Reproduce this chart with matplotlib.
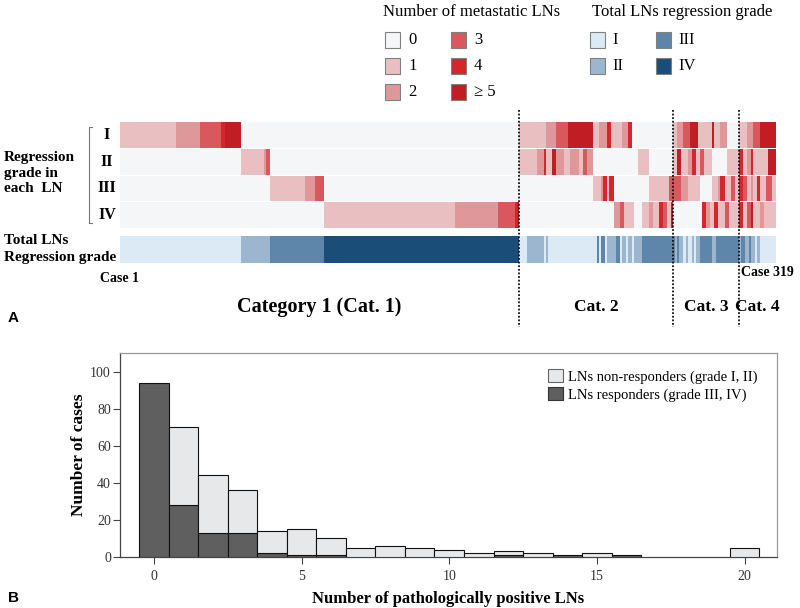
import numpy as np
import matplotlib
matplotlib.use('Agg')
import matplotlib.pyplot as plt
from matplotlib.colors import ListedColormap
from matplotlib.patches import Rectangle, Patch

# ---------------- DATA ----------------
# Panel A: run-length encoded (value, number of cases), cases ordered 1..319
cat_names = ['Category 1 (Cat. 1)', 'Cat. 2', 'Cat. 3', 'Cat. 4']
cat_sizes = [194, 75, 32, 18]

row_I = [(1, 27), (2, 12), (3, 10), (4, 2), (5, 8), (0, 135),
         (1, 13), (2, 5), (3, 6), (5, 12), (1, 3), (2, 4), (4, 2), (1, 5), (2, 3), (4, 2), (0, 20),
         (1, 2), (2, 3), (3, 3), (5, 4), (1, 7), (5, 1), (1, 3), (2, 3), (0, 6),
         (1, 4), (2, 3), (3, 3), (5, 8)]
row_II = [(0, 59), (1, 11), (2, 1), (3, 2), (0, 121),
          (1, 9), (2, 3), (4, 1), (1, 3), (5, 2), (2, 4), (1, 3), (2, 4), (1, 2), (3, 2), (2, 3), (0, 22), (1, 5), (0, 12),
          (1, 2), (5, 2), (1, 3), (2, 2), (4, 2), (1, 2), (3, 2), (1, 4), (0, 7), (1, 6),
          (4, 2), (1, 2), (2, 2), (4, 1), (1, 7), (5, 4)]
row_III = [(0, 73), (1, 17), (2, 5), (3, 4), (0, 95),
           (0, 36), (1, 4), (2, 1), (4, 2), (1, 1), (4, 2), (0, 17), (1, 10), (3, 2),
           (3, 4), (2, 3), (1, 6), (0, 6), (1, 3), (2, 1), (4, 2), (1, 3), (3, 2), (1, 2),
           (4, 2), (3, 2), (1, 2), (2, 1), (1, 2), (4, 1), (1, 3), (3, 3), (1, 2)]
row_IV = [(0, 99), (1, 64), (2, 21), (3, 8), (4, 1), (5, 1),
          (0, 46), (2, 3), (3, 2), (1, 5), (0, 4), (1, 3), (2, 2), (1, 3), (4, 2), (3, 2), (1, 2), (5, 1),
          (0, 14), (4, 2), (2, 2), (1, 2), (4, 2), (1, 3), (3, 2), (1, 5),
          (4, 2), (1, 2), (3, 2), (5, 1), (1, 3), (2, 2), (1, 6)]
total_grade = [(1, 59), (2, 14), (3, 26), (4, 95),
               (1, 4), (2, 8), (1, 1), (2, 1), (1, 24), (3, 1), (1, 1), (3, 2), (1, 1), (2, 4), (3, 2), (1, 1),
               (2, 2), (1, 1), (2, 2), (1, 1), (2, 4), (3, 15),
               (3, 1), (2, 1), (3, 1), (2, 2), (1, 1), (2, 1), (1, 2), (2, 1), (1, 1), (2, 2), (3, 6), (2, 2), (3, 11),
               (2, 1), (3, 2), (2, 2), (3, 1), (2, 2), (1, 1), (2, 1), (1, 8)]

row_labels = ['I', 'II', 'III', 'IV']
meta_labels = ['0', '1', '2', '3', '4', '\u2265 5']
grade_labels = ['I', 'II', 'III', 'IV']

# Panel B: histogram
n_pos_lns = list(range(0, 21))
responders = [94, 28, 13, 13, 2, 1, 1, 0, 0, 0, 0, 0, 1, 0, 1, 0, 1, 0, 0, 0, 0]
non_responders = [0, 42, 31, 23, 12, 14, 9, 5, 6, 5, 4, 2, 2, 2, 0, 2, 0, 0, 0, 0, 5]

# ---------------- STYLE ----------------
heat_colors = ['#f4f6f7', '#eabfc2', '#e0979a', '#d9585d', '#d4262d', '#c01d24']
grade_colors = ['#dceaf6', '#9db6d0', '#5e86aa', '#1a4e78']
light_bar = '#e7e8ea'
dark_bar = '#5f5f5f'
SERIF = ['Liberation Serif', 'DejaVu Serif']
SANS = ['Liberation Sans', 'DejaVu Sans']

W, H = 800, 608
fig = plt.figure(figsize=(W / 100, H / 100), dpi=100)


def fx(x):
    return x / W


def fy(y):
    return 1 - y / H


def T(x, y, s, **kw):
    kw.setdefault('family', SERIF)
    kw.setdefault('va', 'center')
    fig.text(fx(x), fy(y), s, **kw)


def expand(runs):
    out = []
    for v, n in runs:
        out += [v] * n
    return np.array(out)


rows = [expand(r) for r in (row_I, row_II, row_III, row_IV)]
tot = expand(total_grade)
n_cases = sum(cat_sizes)
for r in rows + [tot]:
    assert len(r) == n_cases, len(r)

# ---------------- PANEL A ----------------
hx0, hx1, hy0, hy1 = 120, 776, 105, 330
axh = fig.add_axes([fx(hx0), fy(hy1), (hx1 - hx0) / W, (hy1 - hy0) / H])
axh.set_xlim(0, n_cases)
axh.set_ylim(hy1, hy0)
axh.axis('off')

xe = np.arange(n_cases + 1)
row_y = [(122, 147.5), (148.5, 174.5), (175.5, 201), (202, 228)]
hcmap = ListedColormap(heat_colors)
gcmap = ListedColormap(grade_colors)
for r, (y0, y1) in zip(rows, row_y):
    axh.pcolormesh(xe, [y0, y1], r[None, :], cmap=hcmap, vmin=-0.5, vmax=5.5,
                   shading='flat', antialiased=False, edgecolors='none')
axh.pcolormesh(xe, [236, 263], tot[None, :], cmap=gcmap, vmin=0.5, vmax=4.5,
               shading='flat', antialiased=False, edgecolors='none')

bounds = np.cumsum(cat_sizes)
for b in bounds[:-1]:
    axh.plot([b, b], [110, 327], color='#111111', lw=1.3, ls=(0, (1, 1)), clip_on=False)
starts = np.concatenate([[0], bounds[:-1]])
for name, s, n in zip(cat_names, starts, cat_sizes):
    axh.text(s + n / 2, 307, name, ha='center', va='center', family=SERIF,
             fontsize=14.5 if n > 100 else 12.5, fontweight='bold')

for lab, (y0, y1) in zip(row_labels, row_y):
    T(107, (y0 + y1) / 2, lab, ha='center', fontsize=11.5, fontweight='bold')
# bracket
fig.add_artist(plt.Line2D([fx(92), fx(89), fx(89), fx(92)], [fy(127), fy(127), fy(223), fy(223)],
                          color='#777777', lw=0.8))
T(4, 157, 'Regression', fontsize=11, fontweight='bold')
T(4, 173, 'grade in', fontsize=11, fontweight='bold')
T(4, 189, 'each  LN', fontsize=11, fontweight='bold')
T(4, 241, 'Total LNs', fontsize=11, fontweight='bold')
T(4, 257, 'Regression grade', fontsize=11, fontweight='bold')
T(120, 278, 'Case 1', ha='center', fontsize=10, fontweight='bold')
T(741, 272, 'Case 319', ha='left', fontsize=10, fontweight='bold')
T(8, 318, 'A', family=SANS, fontsize=11, fontweight='bold')

# top legends
T(383, 12, 'Number of metastatic LNs', fontsize=12)
T(592, 12, 'Total LNs regression grade', fontsize=12)
sq = 15
leg_rows_y = [40, 66, 92]
for i, lab in enumerate(meta_labels):
    col, rw = divmod(i, 3)
    x = 385 + col * 66
    y = leg_rows_y[rw]
    fig.add_artist(Rectangle((fx(x), fy(y + sq / 2)), sq / W, sq / H, transform=fig.transFigure,
                             facecolor=heat_colors[i], edgecolor='#808080', lw=0.8))
    T(x + 23, y, lab, fontsize=12)
for i, lab in enumerate(grade_labels):
    col, rw = divmod(i, 2)
    x = 590 + col * 66
    y = leg_rows_y[rw]
    fig.add_artist(Rectangle((fx(x), fy(y + sq / 2)), sq / W, sq / H, transform=fig.transFigure,
                             facecolor=grade_colors[i], edgecolor='#808080', lw=0.8))
    T(x + 22, y, lab, fontsize=12)

# ---------------- PANEL B ----------------
ax = fig.add_axes([fx(120), fy(557), (777 - 120) / W, (557 - 353) / H])
x = np.array(n_pos_lns)
r = np.array(responders)
nr = np.array(non_responders)
m = r > 0
ax.bar(x[m], r[m], width=1, color=dark_bar, edgecolor='#111111', lw=0.8, zorder=3)
m2 = nr > 0
ax.bar(x[m2], nr[m2], bottom=r[m2], width=1, color=light_bar, edgecolor='#111111', lw=0.8, zorder=3)
ax.set_xlim(-1.15, 21.1)
ax.set_ylim(0, 110)
ax.set_yticks([0, 20, 40, 60, 80, 100])
ax.set_xticks([0, 5, 10, 15, 20])
for s in ['top', 'right']:
    ax.spines[s].set_color('#999999')
for s in ['left', 'bottom']:
    ax.spines[s].set_color('#444444')
for s in ax.spines.values():
    s.set_linewidth(0.9)
ax.tick_params(direction='out', length=5, width=0.8, color='#444444', labelsize=10,
               labelcolor='#333333')
ax.tick_params(axis='y', pad=1.5)
ax.tick_params(axis='x', pad=4)
for lab in ax.get_xticklabels() + ax.get_yticklabels():
    lab.set_family(SERIF)
ax.set_xlabel('Number of pathologically positive LNs', family=SERIF, fontsize=12,
              fontweight='bold', labelpad=6)
ax.set_ylabel('Number of cases', family=SERIF, fontsize=12.5, fontweight='bold', labelpad=2)
handles = [Patch(facecolor=light_bar, edgecolor='#666666', lw=0.8),
           Patch(facecolor=dark_bar, edgecolor='#333333', lw=0.8)]
fig.legend(handles, ['LNs non-responders (grade I, II)', 'LNs responders (grade III, IV)'],
           loc='upper left', bbox_to_anchor=(fx(548), fy(369)), frameon=False,
           borderpad=0, borderaxespad=0, handlelength=1.0, handleheight=1.0,
           handletextpad=0.4, labelspacing=0.25, prop={'family': SERIF, 'size': 10.5})
T(8, 598, 'B', family=SANS, fontsize=11, fontweight='bold')

fig.savefig('out.png', dpi=100)
